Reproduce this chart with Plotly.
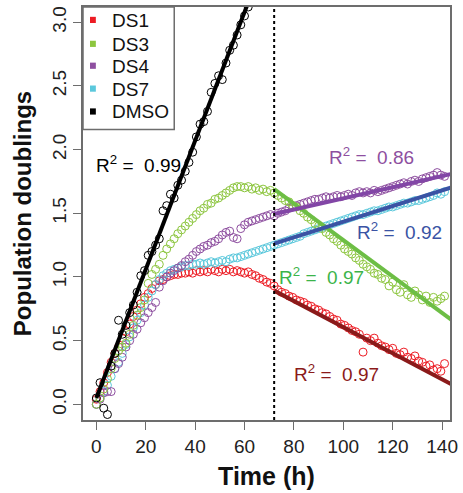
import plotly.graph_objects as go

# ---------------- data ----------------
time_h = [0, 1.5, 3, 4.5, 6, 7.5, 9, 10.5, 12, 13.5, 15, 16.5, 18, 19.5, 21, 22.5, 24, 25.5, 27, 28.5,
          30, 31.5, 33, 34.5, 36, 37.5, 39, 40.5, 42, 43.5, 45, 46.5, 48, 49.5, 51, 52.5, 54, 55.5, 57, 58.5,
          60, 61.5, 63, 64.5, 66, 67.5, 69, 70.5, 72, 73.5, 75, 76.5, 78, 79.5, 81, 82.5, 84, 85.5, 87, 88.5,
          90, 91.5, 93, 94.5, 96, 97.5, 99, 100.5, 102, 103.5, 105, 106.5, 108, 109.5, 111, 112.5, 114, 115.5,
          117, 118.5, 120, 121.5, 123, 124.5, 126, 127.5, 129, 130.5, 132, 133.5, 135, 136.5, 138, 139.5, 141]

ds1 = [0.04, 0.10, 0.17, 0.25, 0.33, 0.40, 0.45, 0.52, 0.57, 0.63, 0.69, 0.74, 0.79, 0.84, 0.87, 0.91, 0.94, 0.97, 0.98, 1.00,
       1.01, 1.02, 1.02, 1.03, 1.03, 1.04, 1.03, 1.05, 1.04, 1.05, 1.04, 1.06, 1.05, 1.04, 1.06, 1.05, 1.06, 1.04, 1.05, 1.04,
       1.03, 1.04, 1.02, 1.01, 0.99, 0.98, 0.96, 0.95, 0.93, 0.90, 0.88, 0.87, 0.85, 0.84, 0.82, 0.81, 0.80, 0.78, 0.77, 0.75,
       0.74, 0.72, 0.71, 0.69, 0.67, 0.66, 0.63, 0.62, 0.60, 0.58, 0.57, 0.55, 0.41, 0.52, 0.50, 0.52, 0.48, 0.46,
       0.45, 0.43, 0.44, 0.40, 0.39, 0.41, 0.37, 0.36, 0.38, 0.34, 0.33, 0.30, 0.31, 0.27, 0.28, 0.26, 0.32]

ds3 = [0.00, 0.05, 0.12, 0.20, 0.28, 0.36, 0.42, 0.45, 0.48, 0.55, 0.62, 0.70, 0.76, 0.82, 0.95, 1.02, 1.06, 1.10, 1.17, 1.22,
       1.26, 1.30, 1.34, 1.37, 1.40, 1.43, 1.46, 1.49, 1.52, 1.54, 1.57, 1.58, 1.61, 1.62, 1.64, 1.66, 1.68, 1.70, 1.71, 1.71,
       1.70, 1.71, 1.69, 1.70, 1.68, 1.69, 1.67, 1.68, 1.66, 1.64, 1.62, 1.60, 1.59, 1.56, 1.55, 1.52, 1.50, 1.47, 1.45, 1.42,
       1.40, 1.38, 1.35, 1.33, 1.30, 1.28, 1.25, 1.22, 1.20, 1.18, 1.15, 1.13, 1.10, 1.08, 1.06, 1.03, 1.02, 0.99,
       0.98, 0.93, 0.96, 0.90, 0.88, 0.94, 0.86, 0.84, 0.89, 0.86, 0.82, 0.85, 0.80, 0.84, 0.81, 0.83, 0.85]

ds4 = [0.00, 0.04, 0.09, 0.10, 0.10, 0.28, 0.32, 0.37, 0.45, 0.50, 0.55, 0.59, 0.64, 0.68, 0.72, 0.76, 0.80, 0.92, 0.97, 1.00,
       1.03, 1.05, 1.07, 1.09, 1.12, 1.14, 1.17, 1.20, 1.22, 1.24, 1.25, 1.27, 1.28, 1.30, 1.33, 1.35, 1.36, 1.31, 1.30, 1.38,
       1.41, 1.43, 1.44, 1.45, 1.46, 1.47, 1.48, 1.49, 1.48, 1.50, 1.51, 1.52, 1.54, 1.55, 1.56, 1.57, 1.58, 1.59, 1.60, 1.61,
       1.61, 1.62, 1.63, 1.62, 1.63, 1.64, 1.63, 1.64, 1.65, 1.64, 1.66, 1.67, 1.66, 1.67, 1.66, 1.68, 1.67, 1.68,
       1.69, 1.70, 1.71, 1.72, 1.73, 1.74, 1.73, 1.75, 1.76, 1.75, 1.77, 1.78, 1.79, 1.80, 1.82, 1.80, 1.79]

ds7 = [0.00, 0.05, 0.10, 0.15, 0.22, 0.28, 0.33, 0.40, 0.47, 0.53, 0.60, 0.66, 0.72, 0.78, 0.84, 0.89, 0.94, 0.98, 1.01, 1.03,
       1.05, 1.06, 1.07, 1.08, 1.09, 1.09, 1.10, 1.10, 1.11, 1.10, 1.11, 1.12, 1.11, 1.12, 1.13, 1.12, 1.14, 1.15, 1.15, 1.16,
       1.17, 1.18, 1.19, 1.20, 1.21, 1.22, 1.23, 1.24, 1.25, 1.26, 1.27, 1.28, 1.29, 1.30, 1.31, 1.32, 1.34, 1.35, 1.36, 1.37,
       1.38, 1.39, 1.40, 1.41, 1.42, 1.43, 1.44, 1.45, 1.46, 1.47, 1.48, 1.49, 1.49, 1.50, 1.51, 1.52, 1.52, 1.53,
       1.54, 1.55, 1.55, 1.56, 1.57, 1.58, 1.58, 1.59, 1.60, 1.60, 1.61, 1.62, 1.63, 1.64, 1.66, 1.65, 1.67]

dmso_time = [0, 1.5, 3, 4.5, 6, 7.5, 9, 10.5, 12, 13.5, 15, 16.5, 18, 19.5, 21, 22.5, 24, 25.5, 27, 28.5,
             30, 31.5, 33, 34.5, 36, 37.5, 39, 40.5, 42, 43.5, 45, 46.5, 48, 49.5, 51, 52.5, 54, 55.5, 57, 58.5,
             60, 61.5, 63]
dmso = [0.05, 0.17, -0.03, -0.08, 0.30, 0.40, 0.66, 0.55, 0.62, 0.72, 0.78, 0.88, 1.01, 1.05, 1.17, 1.20, 1.25, 1.30, 1.52, 1.56,
        1.65, 1.62, 1.72, 1.76, 1.83, 1.90, 1.98, 2.10, 2.20, 2.22, 2.30, 2.45, 2.52, 2.58, 2.55, 2.68, 2.78, 2.82, 2.90, 2.98,
        3.05, 3.12, 3.20]

# fitted lines: [start time, end time, value at start, slope]
fit_dmso = [0, 64, 0.05, 0.0505]
fit_ds1 = [72, 145, 0.893, -0.01024]
fit_ds3 = [72, 145, 1.69, -0.0143]
fit_ds4 = [72, 145, 1.494, 0.0044]
fit_ds7 = [72, 145, 1.262, 0.00615]

legend_names = ["DS1", "DS3", "DS4", "DS7", "DMSO"]
r2_labels = ["0.99", "0.86", "0.92", "0.97", "0.97"]
treatment_time = 72

x_ticks = [0, 20, 40, 60, 80, 100, 120, 140]
y_ticks = [0.0, 0.5, 1.0, 1.5, 2.0, 2.5, 3.0]

# ---------------- styling ----------------
C_DS1, C_DS3, C_DS4, C_DS7, C_DMSO = "#ED1C24", "#8DC63F", "#8E4FA0", "#5BC8DC", "#000000"
F_DS1, F_DS3, F_DS4, F_DS7 = "#8B1A1A", "#6DBE45", "#8246A6", "#3A53A4"
FONT = "Liberation Sans, Arial, sans-serif"
FRAME = "#6d6d6d"

fig = go.Figure()

def points(x, y, color, name):
    fig.add_trace(go.Scatter(x=x, y=y, mode="markers", name=name, showlegend=False, hoverinfo="skip",
                             marker=dict(symbol="circle-open", size=8, color=color, line=dict(width=1, color=color))))

points(time_h, ds1, C_DS1, "DS1")
points(time_h, ds7, C_DS7, "DS7")
points(time_h, ds4, C_DS4, "DS4")
points(time_h, ds3, C_DS3, "DS3")
points(dmso_time, dmso, C_DMSO, "DMSO")

def fitline(f, color):
    t0, t1, v0, s = f
    fig.add_trace(go.Scatter(x=[t0, t1], y=[v0, v0 + s * (t1 - t0)], mode="lines", showlegend=False,
                             hoverinfo="skip", line=dict(color=color, width=4)))

fitline(fit_dmso, C_DMSO)
fitline(fit_ds1, F_DS1)
fitline(fit_ds3, F_DS3)
fitline(fit_ds4, F_DS4)
fitline(fit_ds7, F_DS7)

# vertical dotted line at treatment time
fig.add_shape(type="line", xref="x", yref="paper", x0=treatment_time, x1=treatment_time, y0=0, y1=1,
              line=dict(color="black", width=2, dash="dot"))

# legend box (drawn in paper coordinates, top-left of the plot)
fig.add_shape(type="rect", xref="paper", yref="paper", x0=0, x1=0.2486, y0=0.7036, y1=1,
              line=dict(color=FRAME, width=1.5), fillcolor="white", layer="above")
leg_cols = [C_DS1, C_DS3, C_DS4, C_DS7, C_DMSO]
leg_rows = [0.9687, 0.9108, 0.8578, 0.8024, 0.7470]
for name, col, yy in zip(legend_names, leg_cols, leg_rows):
    fig.add_shape(type="rect", xref="paper", yref="paper", x0=0.019, x1=0.035, y0=yy - 0.0075, y1=yy + 0.0075,
                  line=dict(width=0), fillcolor=col, layer="above")
    fig.add_annotation(x=0.0730, y=yy, xref="paper", yref="paper", text=name, showarrow=False,
                       width=60, height=22, align="left", valign="middle",
                       xanchor="left", yanchor="middle", font=dict(size=19, color="#111111", family=FONT))

# R^2 annotations
ann = [(-1.0, 1.885, r2_labels[0], "#000000"),
       (93.4, 1.948, r2_labels[1], C_DS4),
       (104.6, 1.36, r2_labels[2], F_DS7),
       (73.3, 1.01, r2_labels[3], "#3CB44A"),
       (79.3, 0.25, r2_labels[4], F_DS1)]
for x, y, txt, col in ann:
    fig.add_annotation(x=x, y=y, xref="x", yref="y", text="R<sup>2</sup> =\u00a0\u00a0" + txt, showarrow=False,
                       width=92, height=24, align="left", valign="middle",
                       xanchor="left", yanchor="middle", font=dict(size=19, color=col, family=FONT))

axis_common = dict(showgrid=False, zeroline=False, showline=True, mirror=True, linecolor=FRAME,
                   linewidth=1.5, ticks="outside", ticklen=8, tickcolor=FRAME, tickwidth=1,
                   tickfont=dict(size=19, color="#222222", family=FONT))

fig.update_xaxes(range=[-5.4, 143.2], tickvals=x_ticks, ticktext=[str(v) for v in x_ticks],
                 title=dict(text="<b>Time (h)</b>", font=dict(size=25, color="#111111", family=FONT), standoff=12),
                 **axis_common)
fig.update_yaxes(range=[-0.123, 3.12], tickvals=y_ticks, ticktext=[f"{v:.1f}" for v in y_ticks],
                 tickangle=-90,
                 title=dict(text="<b>Population doublings</b>", font=dict(size=24, color="#111111", family=FONT), standoff=10),
                 **axis_common)

fig.update_layout(width=463, height=493, margin=dict(l=83, r=10, t=5, b=73),
                  paper_bgcolor="white", plot_bgcolor="white", showlegend=False,
                  font=dict(family=FONT))

fig.write_html("out.html")
